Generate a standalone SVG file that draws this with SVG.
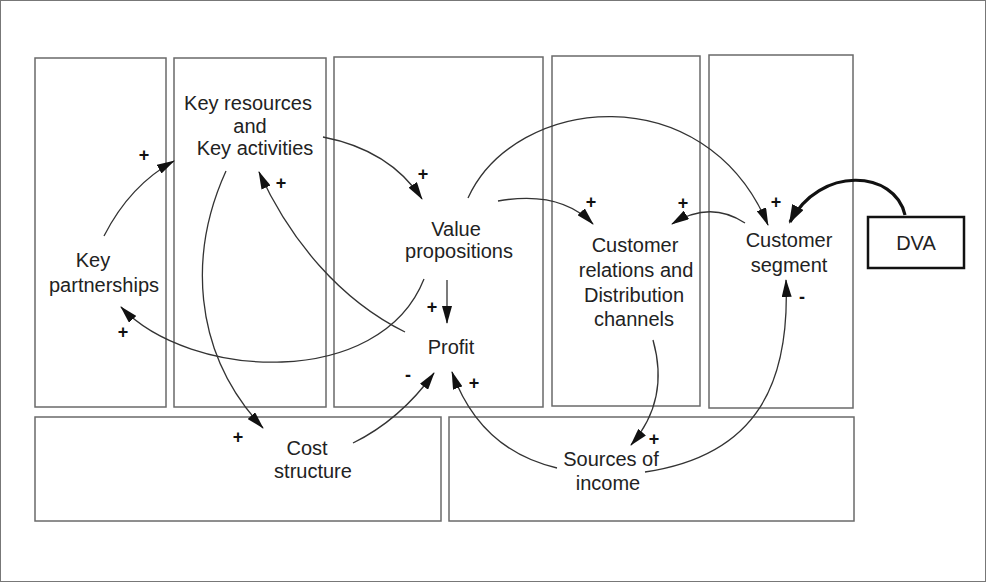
<svg xmlns="http://www.w3.org/2000/svg" width="986" height="582" viewBox="0 0 986 582">
<defs>
<marker id="ah" viewBox="0 0 18 10" refX="17" refY="5" markerWidth="18" markerHeight="10" markerUnits="userSpaceOnUse" orient="auto">
<path d="M0,0 L18,5 L0,10 Z" fill="#111"/>
</marker>
<marker id="ahb" viewBox="0 0 18 12" refX="16" refY="6" markerWidth="19" markerHeight="13" markerUnits="userSpaceOnUse" orient="auto">
<path d="M0,0 L18,6 L0,12 Z" fill="#111"/>
</marker>
</defs>
<style>
.blk{fill:#fff;stroke:#6a6a6a;stroke-width:1.5}
.lbl{font-family:"Liberation Sans",Arial,sans-serif;font-size:20px;fill:#222;text-anchor:middle}
.sg{font-family:"Liberation Sans",Arial,sans-serif;font-size:18px;font-weight:bold;fill:#111;text-anchor:middle}
.c{fill:none;stroke:#333;stroke-width:1.3;marker-end:url(#ah)}
</style>
<rect x="0.5" y="0.5" width="985" height="581" fill="#fff" stroke="#777" stroke-width="1"/>
<g id="canvas-blocks">
<rect class="blk" x="35" y="58" width="131" height="349"/>
<rect class="blk" x="174" y="58" width="152" height="349"/>
<rect class="blk" x="334" y="57" width="209" height="350"/>
<rect class="blk" x="552" y="56" width="148" height="350"/>
<rect class="blk" x="709" y="55" width="144" height="353"/>
<rect class="blk" x="35" y="417" width="406" height="104"/>
<rect class="blk" x="449" y="417" width="405" height="104"/>
</g>
<g id="key-resources"><text class="lbl" x="248" y="110">Key resources</text><text class="lbl" x="250" y="133">and</text><text class="lbl" x="255" y="155">Key activities</text></g>
<g id="key-partnerships"><text class="lbl" x="93" y="267">Key</text><text class="lbl" x="104" y="292">partnerships</text></g>
<g id="value-propositions"><text class="lbl" x="456" y="236">Value</text><text class="lbl" x="459" y="258">propositions</text></g>
<g id="profit"><text class="lbl" x="451" y="354">Profit</text></g>
<g id="customer-relations"><text class="lbl" x="635" y="252">Customer</text><text class="lbl" x="636" y="277">relations and</text><text class="lbl" x="634" y="302">Distribution</text><text class="lbl" x="634" y="326">channels</text></g>
<g id="customer-segment"><text class="lbl" x="789" y="247">Customer</text><text class="lbl" x="789" y="272">segment</text></g>
<g id="cost-structure"><text class="lbl" x="307" y="455">Cost</text><text class="lbl" x="313" y="478">structure</text></g>
<g id="sources-of-income"><text class="lbl" x="611" y="466">Sources of</text><text class="lbl" x="608" y="490">income</text></g>
<g id="dva"><rect x="868" y="217" width="96" height="51" fill="#fff" stroke="#111" stroke-width="2.5"/><text class="lbl" x="916" y="250">DVA</text></g>
<g id="connectors">
<path class="c" d="M104,236 Q130,185 174,161"/>
<path class="c" d="M226,171 C190,250 190,350 263,428"/>
<path class="c" d="M405,332 C340,300 290,240 259,172"/>
<path class="c" d="M323,137 Q390,150 422,199"/>
<path class="c" d="M468,198 C515,95 705,75 768,225"/>
<path class="c" d="M498,201 Q560,190 593,224"/>
<path class="c" d="M745,223 Q710,200 672,224"/>
<path fill="none" stroke="#111" stroke-width="3.2" marker-end="url(#ahb)" d="M905,215 C895,170 820,165 790,222"/>
<path class="c" d="M447,280 L447,323"/>
<path class="c" d="M424,279 C380,390 190,380 121,307"/>
<path class="c" d="M353,443 Q400,420 434,373"/>
<path class="c" d="M557,468 Q480,450 452,372"/>
<path class="c" d="M653,340 Q670,400 631,445"/>
<path class="c" d="M645,472 C760,455 790,380 786,280"/>
</g>
<g id="polarity-signs">
<text class="sg" x="144" y="161">+</text>
<text class="sg" x="281" y="189">+</text>
<text class="sg" x="238" y="443">+</text>
<text class="sg" x="423" y="180">+</text>
<text class="sg" x="776" y="208">+</text>
<text class="sg" x="591" y="208">+</text>
<text class="sg" x="683" y="209">+</text>
<text class="sg" x="432" y="313">+</text>
<text class="sg" x="123" y="338">+</text>
<text class="sg" x="408" y="381">-</text>
<text class="sg" x="474" y="389">+</text>
<text class="sg" x="654" y="445">+</text>
<text class="sg" x="802" y="303">-</text>
</g>
</svg>
